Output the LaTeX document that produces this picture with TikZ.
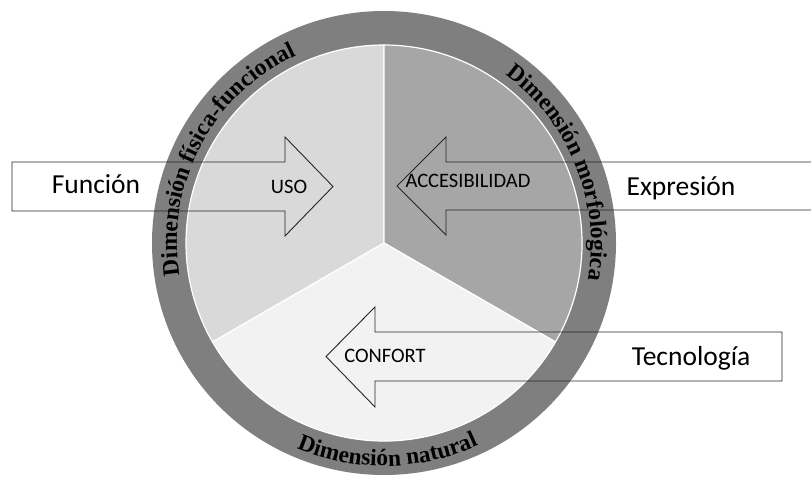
\documentclass[tikz,border=0pt]{standalone}
\usepackage{fontspec}
\setmainfont{Carlito}
\newfontfamily\dimfont{Liberation Serif}
\usetikzlibrary{decorations.text}

\definecolor{ringgray}{HTML}{7F7F7F}
\definecolor{usogray}{HTML}{D9D9D9}
\definecolor{accgray}{HTML}{A6A6A6}
\definecolor{confgray}{HTML}{F2F2F2}
\definecolor{inkgray}{HTML}{262626}

\begin{document}
\begin{tikzpicture}[x=1pt,y=1pt,
  bigtext/.style={inner sep=0pt,anchor=base,text=black,font=\fontsize{27.5}{33}\selectfont},
  smalltext/.style={inner sep=0pt,anchor=base,text=black,font=\fontsize{20.5}{25}\selectfont},
  sector/.style={draw=white,line width=1.2pt},
  blockarrow/.style={draw=inkgray,line width=0.9pt,line join=miter}]
\useasboundingbox (0,0) rectangle (811,477);

\coordinate (c) at (384,234);

% outer ring and the three sectors
\fill[ringgray] (c) circle[radius=232];
\filldraw[sector,fill=usogray] (c) -- ++(90:198) arc[start angle=90,end angle=210,radius=198] -- cycle;
\filldraw[sector,fill=accgray] (c) -- ++(-30:198) arc[start angle=-30,end angle=90,radius=198] -- cycle;
\filldraw[sector,fill=confgray] (c) -- ++(210:198) arc[start angle=210,end angle=330,radius=198] -- cycle;

% dimension names along the ring
\path[decorate,decoration={text along path,text align=center,
  text={|\dimfont\bfseries\fontsize{23.5}{28}\selectfont|Dimensión física-funcional}}]
  (c) ++(197:207) arc[start angle=197,end angle=107,radius=207];
\path[decorate,decoration={text along path,text align=center,
  text={|\dimfont\bfseries\fontsize{23.5}{28}\selectfont|Dimensión morfológica}}]
  (c) ++(67:207) arc[start angle=67,end angle=-23,radius=207];
\path[decorate,decoration={text along path,text align=center,
  text={|\dimfont\bfseries\fontsize{23.5}{28}\selectfont|Dimensión natural}}]
  (c) ++(236:223) arc[start angle=236,end angle=306,radius=223];

% block arrows
\draw[blockarrow] (12,266) -- (285,266) -- (285,241) -- (333,290.5) -- (285,340) -- (285,315) -- (12,315) -- cycle;
\draw[blockarrow] (815,267) -- (446,267) -- (446,242) -- (397,291) -- (446,340) -- (446,315) -- (815,315);
\draw[blockarrow] (782,96) -- (375,96) -- (375,70) -- (326,120.5) -- (375,170) -- (375,145) -- (782,145) -- cycle;

% labels
\node[bigtext] (funcion) at (96,283) {Función};
\node[smalltext] (uso) at (289,283) {USO};
\node[smalltext] (acces) at (468,289) {ACCESIBILIDAD};
\node[bigtext] (expresion) at (681,281) {Expresión};
\node[smalltext] (confort) at (385,115) {CONFORT};
\node[bigtext] (tecno) at (691,112) {Tecnología};

\end{tikzpicture}
\end{document}
